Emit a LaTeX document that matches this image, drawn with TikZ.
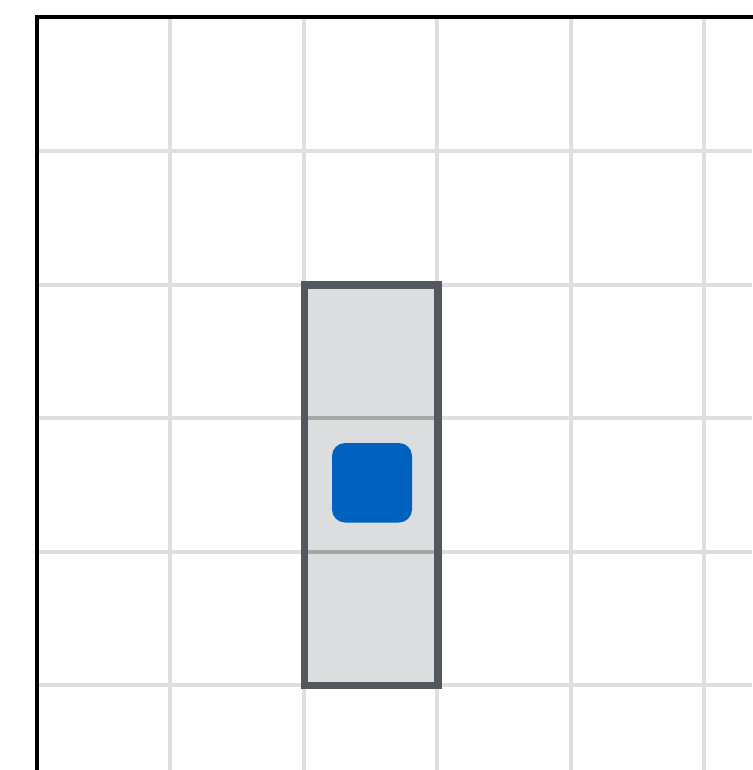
\documentclass[tikz,border=0pt]{standalone}
\definecolor{gridgray}{HTML}{DEDEE0}
\definecolor{boxedge}{HTML}{53585F}
\definecolor{boxfill}{HTML}{DCDDDF}
\definecolor{divider}{HTML}{A6A8A8}
\definecolor{chipblue}{HTML}{0062BF}
\tikzset{
  gridline/.style={draw=gridgray, line width=4pt},
  axisline/.style={draw=black, line width=4pt, line cap=rect},
  column/.style={draw=boxedge, fill=boxfill, line width=7.5pt},
  divline/.style={draw=divider, line width=4pt},
  chip/.style={fill=chipblue, rounded corners=13pt},
}
\begin{document}
\begin{tikzpicture}[x=1pt,y=-1pt]
\useasboundingbox (0,0) rectangle (752,770);
\fill[white] (0,0) rectangle (752,770);
% grid
\foreach \x in {170,303.5,437,570.5,704}
  \draw[gridline] (\x,17.5) -- (\x,770);
\foreach \y in {151,284.5,418,551.5,685}
  \draw[gridline] (36.5,\y) -- (752,\y);
% column
\draw[column] (304.5,285) rectangle (438,685.5);
\draw[divline] (308.25,418) -- (434.25,418);
\draw[divline] (308.25,551.5) -- (434.25,551.5);
% chip
\fill[chip] (332,443) rectangle (412,522.5);
% axes
\draw[axisline] (36.5,775) -- (36.5,17.5) -- (760,17.5);
\end{tikzpicture}
\end{document}
